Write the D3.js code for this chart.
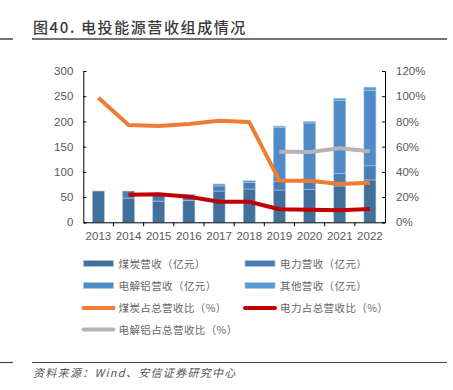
<!DOCTYPE html>
<html><head><meta charset="utf-8">
<script src="https://cdn.jsdelivr.net/npm/d3@7"></script>
<style>
body{margin:0;background:#fff;}
svg{display:block;}
</style></head>
<body>
<svg id="c" width="453" height="390"></svg>
<script>
const years = ["2013","2014","2015","2016","2017","2018","2019","2020","2021","2022"];
const coalRev  = [62, 48, 42, 43, 62, 66, 64, 65, 72, 84];
const powerRev = [0, 14, 13, 12, 10, 13, 16.5, 15, 25, 28];
const aluRev   = [0, 0, 0, 0, 0, 0, 107, 117, 144, 149];
const otherRev = [0, 0, 0.5, 0.5, 4, 3.5, 3.3, 3, 5, 7];
const coalShare  = [98.8, 77.2, 76.4, 78, 80.6, 79.5, 33, 33, 30.4, 31.4];
const powerShare = [null, 21.9, 22.2, 20.3, 16.3, 16.3, 10.3, 10, 9.5, 10.5];
const aluShare   = [null, null, null, null, null, null, 56, 55.7, 58.7, 56.3];
const leftTicks = [0, 50, 100, 150, 200, 250, 300];
const rightTicks = [0, 20, 40, 60, 80, 100, 120];

const barNames = ["煤炭营收（亿元）","电力营收（亿元）","电解铝营收（亿元）","其他营收（亿元）"];
const barColors = ["#41709b","#4a7db3","#4f8bc7","#5b9bd5"];
const lineNames = ["煤炭占总营收比（%）","电力占总营收比（%）","电解铝占总营收比（%）"];
const lineColors = ["#ed7d31","#c00000","#b4b4b4"];

const svg = d3.select("#c");
const L = 83.3, R = 385, T = 71, B = 222.3;
const x = d3.scaleBand().domain(years).range([L, R]);
const yL = d3.scaleLinear().domain([0, 300]).range([B, T]);
const yR = d3.scaleLinear().domain([0, 120]).range([B, T]);

// title
svg.append("text").attr("x", 33).attr("y", 33).text("图40. 电投能源营收组成情况")
  .attr("font-family", "Noto Sans CJK SC").attr("font-size", 15).attr("font-weight", 500)
  .attr("letter-spacing", 1.6).attr("fill", "#3a3a3a");
svg.append("line").attr("x1", 32).attr("x2", 447).attr("y1", 39).attr("y2", 39).attr("stroke", "#444").attr("stroke-width", 1.5);
svg.append("line").attr("x1", 0).attr("x2", 13).attr("y1", 39).attr("y2", 39).attr("stroke", "#444").attr("stroke-width", 1.5);

// bars
const stackData = years.map((yr, i) => ({year: yr, s0: coalRev[i], s1: powerRev[i], s2: aluRev[i], s3: otherRev[i]}));
const stack = d3.stack().keys(["s0","s1","s2","s3"])(stackData);
const bw = 12;
stack.forEach((layer, k) => {
  svg.append("g").selectAll("rect").data(layer.filter(d => d[1] - d[0] > 0)).join("rect")
    .attr("x", d => x(d.data.year) + x.bandwidth()/2 - bw/2)
    .attr("width", bw)
    .attr("y", d => yL(d[1]))
    .attr("height", d => yL(d[0]) - yL(d[1]))
    .attr("fill", barColors[k])
    .attr("stroke", "#a9c6e6").attr("stroke-width", 0.6);
});

// lines
const lineData = [coalShare, powerShare, aluShare];
lineData.forEach((arr, k) => {
  const line = d3.line().defined(d => d != null)
    .x((d, i) => x(years[i]) + x.bandwidth()/2).y(d => yR(d));
  svg.append("path").attr("d", line(arr)).attr("fill", "none")
    .attr("stroke", lineColors[k]).attr("stroke-width", 4).attr("stroke-linejoin", "round").attr("stroke-linecap", "butt");
});

// axes
const tickFont = g => g.selectAll("text").attr("font-family", "Liberation Sans, Arial").attr("font-size", 11.5).attr("fill", "#595959");
const ga = svg.append("g").attr("transform", `translate(${L},0)`)
  .call(d3.axisLeft(yL).tickValues(leftTicks).tickSize(-3).tickPadding(10));
ga.select(".domain").attr("stroke", "#000");
ga.selectAll(".tick line").attr("stroke", "#000");
tickFont(ga);
const gr = svg.append("g").attr("transform", `translate(${R},0)`)
  .call(d3.axisRight(yR).tickValues(rightTicks).tickSize(-3).tickPadding(11).tickFormat(d => d + "%"));
gr.select(".domain").attr("stroke", "#000");
gr.selectAll(".tick line").attr("stroke", "#000");
tickFont(gr);
const gx = svg.append("g").attr("transform", `translate(0,${B})`)
  .call(d3.axisBottom(x).tickSize(0).tickPadding(10));
gx.select(".domain").attr("stroke", "#000").attr("stroke-width", 1);
tickFont(gx);
svg.append("g").selectAll("line").data(years.slice(1)).join("line")
  .attr("x1", d => x(d)).attr("x2", d => x(d)).attr("y1", B).attr("y2", B + 4).attr("stroke", "#000");

// legend
const legItems = [
  {name: barNames[0], color: barColors[0], type: "bar"},
  {name: barNames[1], color: barColors[1], type: "bar"},
  {name: barNames[2], color: barColors[2], type: "bar"},
  {name: barNames[3], color: barColors[3], type: "bar"},
  {name: lineNames[0], color: lineColors[0], type: "line"},
  {name: lineNames[1], color: lineColors[1], type: "line"},
  {name: lineNames[2], color: lineColors[2], type: "line"}
];
const rowY = [263.5, 285.5, 308, 329.5];
const colX = [83.5, 245];
legItems.forEach((it, i) => {
  const cx = colX[i % 2], cy = rowY[Math.floor(i / 2)];
  if (it.type === "bar") {
    svg.append("rect").attr("x", cx).attr("y", cy - 3).attr("width", 30).attr("height", 6)
      .attr("fill", it.color).attr("stroke", "#a9c6e6").attr("stroke-width", 0.6);
  } else {
    svg.append("line").attr("x1", cx).attr("x2", cx + 30).attr("y1", cy).attr("y2", cy)
      .attr("stroke", it.color).attr("stroke-width", 4).attr("stroke-linecap", "round");
  }
  svg.append("text").attr("x", cx + 35).attr("y", cy + 4).text(it.name)
    .attr("font-family", "Noto Sans CJK SC").attr("font-size", 10.5).attr("letter-spacing", 0.4).attr("fill", "#666");
});

// footer
svg.append("line").attr("x1", 32).attr("x2", 447).attr("y1", 362.5).attr("y2", 362.5).attr("stroke", "#444").attr("stroke-width", 1.2);
svg.append("line").attr("x1", 0).attr("x2", 13).attr("y1", 362.5).attr("y2", 362.5).attr("stroke", "#444").attr("stroke-width", 1.2);
svg.append("text").attr("x", 33).attr("y", 377).text("资料来源：Wind、安信证券研究中心")
  .attr("font-family", "Noto Sans CJK SC").attr("font-size", 11).attr("font-style", "italic")
  .attr("letter-spacing", 1.3).attr("fill", "#555");
</script>
</body></html>
